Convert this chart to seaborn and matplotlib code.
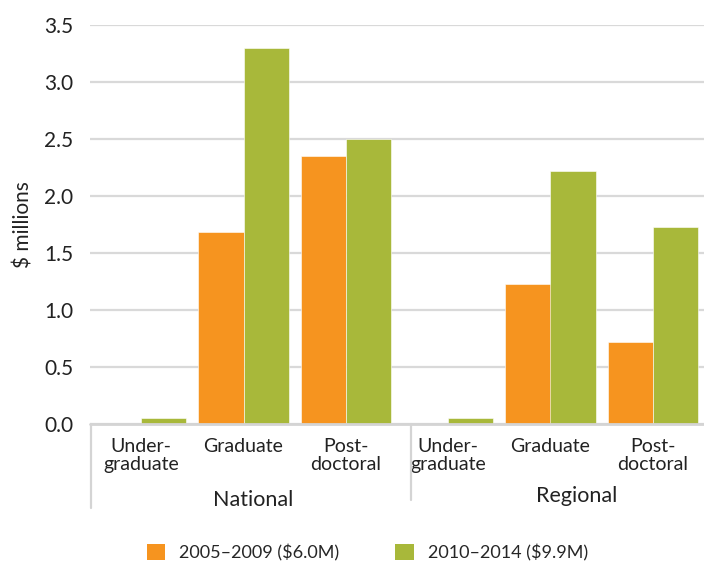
import pandas as pd
import matplotlib
matplotlib.use("Agg")
import matplotlib.pyplot as plt
import matplotlib.transforms as mtransforms
from matplotlib.patches import Patch
import seaborn as sns

# data
groups = ["National", "Regional"]
levels = ["Under-\ngraduate", "Graduate", "Post-\ndoctoral"]
periods = ["2005–2009 (\\$6.0M)", "2010–2014 (\\$9.9M)"]
vals_2005 = [0.0, 1.68, 2.35, 0.0, 1.23, 0.72]
vals_2010 = [0.05, 3.30, 2.50, 0.05, 2.22, 1.73]
yticks = [0.0, 0.5, 1.0, 1.5, 2.0, 2.5, 3.0, 3.5]

colors = ["#F6941F", "#A8B83A"]

cats = [f"{g} {l}" for g in groups for l in levels]
df = pd.DataFrame({
    "cat": cats * 2,
    "period": [periods[0]] * 6 + [periods[1]] * 6,
    "value": vals_2005 + vals_2010,
})

sns.set_style("white")
plt.rcParams["font.family"] = ["Lato", "DejaVu Sans"]

fig = plt.figure(figsize=(7.04, 5.66), dpi=100)
ax = fig.add_axes([90 / 704, 142 / 566, 614 / 704, 399 / 566])

sns.barplot(data=df, x="cat", y="value", hue="period", order=cats,
            hue_order=periods, palette=colors, saturation=1, width=0.88,
            gap=0, edgecolor="white", linewidth=0.4, legend=False, ax=ax,
            zorder=3)

ax.set_xlim(-0.5, 5.5)
ax.set_ylim(0, 3.5)
ax.set_yticks(yticks)
ax.set_yticklabels([f"{t:.1f}" for t in yticks], fontsize=15, color="#222222")
ax.yaxis.grid(True, color="#d9d9d9", linewidth=1.6, zorder=0)
ax.set_axisbelow(True)
for s in ax.spines.values():
    s.set_visible(False)
ax.tick_params(axis="y", length=0, pad=12)
ax.tick_params(axis="x", length=0, pad=10)
ax.set_xticks(range(6))
ax.set_xticklabels(levels * 2, fontsize=14, color="#222222", linespacing=1.1)
ax.set_xlabel("")
ax.set_ylabel("$ millions", fontsize=15, color="#222222", labelpad=8)

# bottom line and group brackets
ax.axhline(0, color="#d4d4d4", linewidth=2, zorder=4, clip_on=False)
trans = mtransforms.blended_transform_factory(ax.transData, ax.transAxes)
ax.plot([-0.49, -0.49], [0, -0.21], transform=trans, color="#d4d4d4",
        linewidth=1.6, clip_on=False)
ax.plot([2.64, 2.64], [0, -0.19], transform=trans, color="#d4d4d4",
        linewidth=1.6, clip_on=False)
ax.text(1.09, -0.19, groups[0], transform=trans, ha="center", va="center",
        fontsize=15.5, color="#222222")
ax.text(4.26, -0.18, groups[1], transform=trans, ha="center", va="center",
        fontsize=15.5, color="#222222")

handles = [Patch(facecolor=c, edgecolor="none") for c in colors]
fig.legend(handles, periods, loc="center", bbox_to_anchor=(0.522, 0.024),
           ncol=2, frameon=False, fontsize=13, handlelength=1.0,
           handleheight=1.0, handletextpad=0.8, columnspacing=3.1)

fig.savefig("out.png", dpi=100)
